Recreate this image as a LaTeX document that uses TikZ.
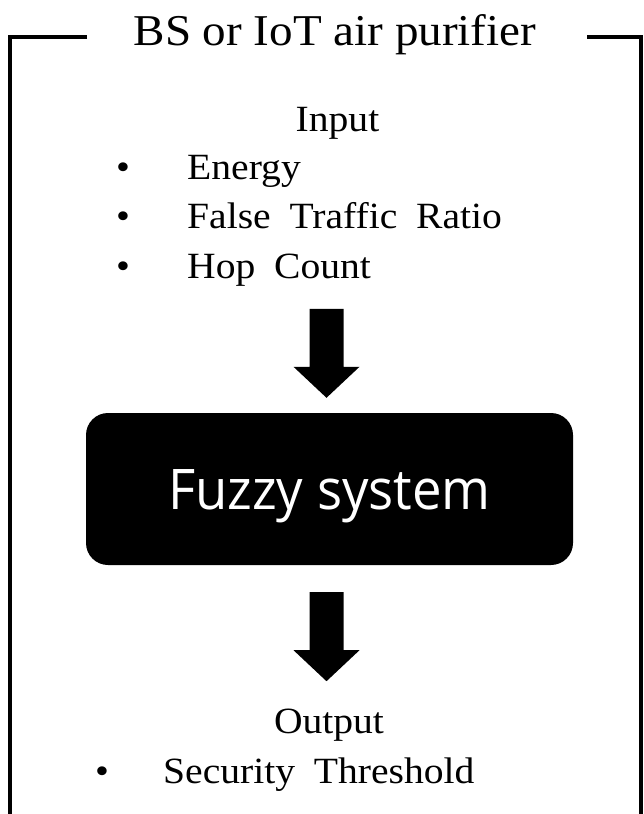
\documentclass[tikz,border=0pt]{standalone}
\usepackage{fontspec}
\setmainfont{Liberation Serif}[FakeStretch=1.07, WordSpace=1.9]
\newfontfamily\titlefont{Liberation Serif}[FakeStretch=1.07]
\newfontfamily\boxfont{Open Sans}[FakeStretch=0.94]
\usetikzlibrary{calc}

\tikzset{
  frameline/.style={line width=3.5pt, line join=miter},
  label/.style={inner sep=0pt, anchor=base, font=\fontsize{37}{42}\selectfont},
  item/.style={label, anchor=base west},
  dot/.style={label},
  titletext/.style={inner sep=0pt, anchor=base, font=\titlefont\fontsize{44}{50}\selectfont},
  fuzzybox/.style={fill=black, rounded corners=22pt, inner sep=0pt,
    minimum width=487pt, minimum height=152pt, text=white,
    text height=40pt, text depth=0pt, font=\boxfont\fontsize{56}{60}\selectfont},
  blockarrow/.pic={
    \fill (-17,0) -- (17,0) -- (17,58) -- (33,58) -- (0,89) -- (-33,58) -- (-17,58) -- cycle;
  }
}

\begin{document}
\begin{tikzpicture}[x=1pt, y=-1pt]
\useasboundingbox (0,0) rectangle (644,814);

% title and open frame
\node[titletext] (title) at (335,45) {BS or IoT air purifier};
\draw[frameline] (87,37) -- (10,37) -- (10,820);
\draw[frameline] (587,37) -- (641,37) -- (641,820);

% inputs
\node[label] (input) at (337.5,131) {Input};
\node[dot] (b1) at (123,179) {•};
\node[item] (energy) at (187,179) {Energy};
\node[dot] (b2) at (123,228.5) {•};
\node[item] (ftr) at (187,228.5) {False Traffic Ratio};
\node[dot] (b3) at (123,278) {•};
\node[item] (hop) at (187,278) {Hop Count};

% fuzzy system block
\node[fuzzybox] (fuzzy) at (329.5,489) {Fuzzy system};

% output
\node[label] (output) at (329,733) {Output};
\node[dot] (b4) at (102,783) {•};
\node[item] (thr) at (163,783) {Security Threshold};

% block arrows
\coordinate (a1) at ($(fuzzy.north)+(-3,-104)$);
\coordinate (a2) at ($(fuzzy.south)+(-3,27)$);
\path (a1) pic {blockarrow};
\path (a2) pic {blockarrow};
\end{tikzpicture}
\end{document}
